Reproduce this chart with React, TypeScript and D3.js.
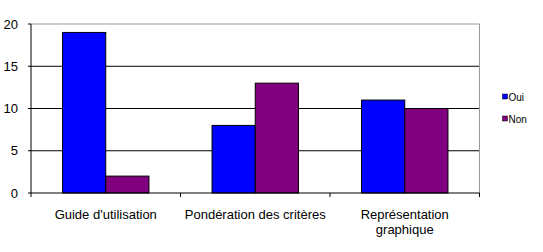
import React from "react";
import * as d3 from "d3";

const categories = ["Guide d'utilisation", "Pondération des critères", "Représentation graphique"];
const categoryLines = [["Guide d'utilisation"], ["Pondération des critères"], ["Représentation", "graphique"]];
const seriesNames = ["Oui", "Non"];
const oui = [19, 8, 11];
const non = [2, 13, 10];
const yTicks = [0, 5, 10, 15, 20];
const colors = ["#0000ff", "#800080"];

const W = 543;
const H = 252;
const left = 31;
const right = 479.5;
const top = 24;
const bottom = 193;
const font = "'Liberation Sans', Arial, sans-serif";

export default function App() {
  const x = d3.scaleBand<string>().domain(categories).range([left, right]).paddingInner(0).paddingOuter(0);
  const inner = d3.scaleBand<string>().domain(seriesNames).range([0, x.bandwidth()]).paddingInner(0).paddingOuter(0.73);
  const y = d3.scaleLinear().domain([0, 20]).range([bottom, top]);
  const values = [oui, non];

  return (
    <svg width={W} height={H} style={{ position: "absolute", left: 0, top: 0 }}>
      <rect x={0} y={0} width={W} height={H} fill="#fff" />
      {yTicks.filter((t) => t > 0 && t < 20).map((t) => (
        <line key={t} x1={left} x2={right} y1={y(t)} y2={y(t)} stroke="#000" strokeWidth={1} />
      ))}
      <line x1={left} x2={right} y1={top} y2={top} stroke="#999" />
      <line x1={right} x2={right} y1={top} y2={bottom} stroke="#999" />
      {categories.map((c, ci) =>
        seriesNames.map((s, si) => {
          const v = values[si][ci];
          return (
            <rect
              key={c + s}
              x={(x(c) ?? 0) + (inner(s) ?? 0)}
              y={y(v)}
              width={inner.bandwidth()}
              height={bottom - y(v)}
              fill={colors[si]}
              stroke="#000"
              strokeWidth={1}
            />
          );
        })
      )}
      <line x1={left} x2={left} y1={top} y2={bottom} stroke="#000" />
      <line x1={left} x2={right} y1={bottom} y2={bottom} stroke="#000" />
      {yTicks.map((t) => (
        <g key={t}>
          <line x1={left - 3} x2={left} y1={y(t)} y2={y(t)} stroke="#000" />
          <text x={18} y={y(t) + 4.7} textAnchor="end" fontFamily={font} fontSize={13} fill="#000">
            {t}
          </text>
        </g>
      ))}
      {[left, ...categories.map((c) => (x(c) ?? 0) + x.bandwidth())].map((p, i) => (
        <line key={i} x1={p} x2={p} y1={bottom} y2={bottom + 4} stroke="#000" />
      ))}
      {categories.map((c, ci) => (
        <text key={c} x={(x(c) ?? 0) + x.bandwidth() / 2} y={218.5} textAnchor="middle" fontFamily={font} fontSize={13} fill="#000">
          {categoryLines[ci].map((l, li) => (
            <tspan key={li} x={(x(c) ?? 0) + x.bandwidth() / 2} dy={li === 0 ? 0 : 15}>
              {l}
            </tspan>
          ))}
        </text>
      ))}
      {seriesNames.map((s, si) => (
        <g key={s}>
          <rect x={502.5} y={94 + si * 22} width={5} height={5} fill={colors[si]} stroke="#000" strokeWidth={0.5} />
          <text x={508.5} y={101 + si * 22} fontFamily={font} fontSize={10} fill="#000">
            {s}
          </text>
        </g>
      ))}
    </svg>
  );
}
